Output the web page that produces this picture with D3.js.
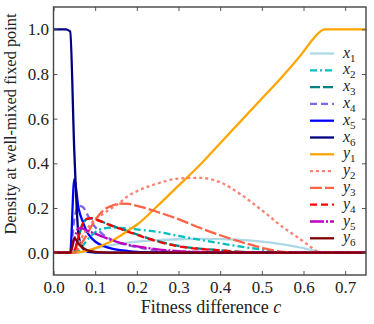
<!DOCTYPE html>
<html>
<head>
<meta charset="utf-8">
<script src="https://cdn.jsdelivr.net/npm/d3@7"></script>
<style>
  body { margin: 0; background: #fff; }
</style>
</head>
<body>
<script>
//data
var cVals = [0, 0.01, 0.02, 0.03, 0.04, 0.05, 0.06, 0.07, 0.08, 0.09, 0.1, 0.12, 0.14, 0.16, 0.18, 0.2,
  0.25, 0.3, 0.35, 0.4, 0.45, 0.5, 0.55, 0.6, 0.62, 0.64, 0.65, 0.7, 0.75];

var x1 = [0, 0, 0, 0, 0, 0, 0, 0.003, 0.008, 0.013, 0.018, 0.027, 0.034, 0.04, 0.045, 0.049,
  0.056, 0.06, 0.062, 0.061, 0.057, 0.049, 0.037, 0.02, 0.011, 0.003, 0, 0, 0];
var x2 = [0, 0, 0, 0, 0, 0, 0.01, 0.03, 0.055, 0.075, 0.092, 0.108, 0.112, 0.111, 0.108, 0.104,
  0.093, 0.075, 0.058, 0.042, 0.027, 0.014, 0.002, 0, 0, 0, 0, 0, 0];
var x3 = [0, 0, 0, 0, 0, 0.01, 0.07, 0.128, 0.15, 0.154, 0.15, 0.136, 0.121, 0.108, 0.095, 0.082,
  0.052, 0.03, 0.018, 0.011, 0.004, 0, 0, 0, 0, 0, 0, 0, 0];
var x4 = [0, 0, 0, 0, 0, 0.15, 0.21, 0.205, 0.175, 0.14, 0.115, 0.08, 0.058, 0.043, 0.033, 0.025,
  0.01, 0.004, 0.001, 0, 0, 0, 0, 0, 0, 0, 0, 0, 0];
var x5 = [0, 0, 0, 0, 0, 0.33, 0.2, 0.14, 0.095, 0.068, 0.05, 0.03, 0.018, 0.011, 0.007, 0.004,
  0.001, 0, 0, 0, 0, 0, 0, 0, 0, 0, 0, 0, 0];
var x6 = [1, 1, 1, 1, 0.99, 0.45, 0.08, 0.02, 0.006, 0.002, 0, 0, 0, 0, 0, 0,
  0, 0, 0, 0, 0, 0, 0, 0, 0, 0, 0, 0, 0];
var y1 = [0, 0, 0, 0, 0, 0, 0.002, 0.005, 0.009, 0.014, 0.02, 0.035, 0.052, 0.075, 0.1, 0.125,
  0.21, 0.3, 0.39, 0.49, 0.59, 0.69, 0.79, 0.9, 0.95, 0.99, 1, 1, 1];
var y2 = [0, 0, 0, 0, 0, 0.01, 0.04, 0.075, 0.105, 0.13, 0.15, 0.175, 0.2, 0.225, 0.255, 0.275,
  0.31, 0.332, 0.335, 0.315, 0.26, 0.19, 0.115, 0.05, 0.022, 0, 0, 0, 0];
var y3 = [0, 0, 0, 0, 0, 0, 0.02, 0.05, 0.08, 0.115, 0.145, 0.19, 0.21, 0.22, 0.218, 0.21,
  0.182, 0.15, 0.112, 0.078, 0.048, 0.022, 0.004, 0, 0, 0, 0, 0, 0];
var y4 = [0, 0, 0, 0, 0, 0.01, 0.07, 0.13, 0.152, 0.155, 0.15, 0.135, 0.12, 0.107, 0.093, 0.08,
  0.05, 0.028, 0.017, 0.01, 0.003, 0, 0, 0, 0, 0, 0, 0, 0];
var y5 = [0, 0, 0, 0, 0, 0.06, 0.11, 0.108, 0.1, 0.092, 0.085, 0.07, 0.056, 0.044, 0.035, 0.028,
  0.015, 0.007, 0.003, 0.001, 0, 0, 0, 0, 0, 0, 0, 0, 0];
var y6 = [0, 0, 0, 0, 0, 0.065, 0.04, 0.022, 0.012, 0.007, 0.004, 0.001, 0, 0, 0, 0,
  0, 0, 0, 0, 0, 0, 0, 0, 0, 0, 0, 0, 0];

var xTicks = [0, 0.1, 0.2, 0.3, 0.4, 0.5, 0.6, 0.7];
var yTicks = [0, 0.2, 0.4, 0.6, 0.8, 1.0];

//series styles (name, values, color, dash)
var series = [
  {name: 'x', sub: '1', values: x1, color: '#add8e6', dash: null},
  {name: 'x', sub: '2', values: x2, color: '#00bfbf', dash: '7,3,2,3'},
  {name: 'x', sub: '3', values: x3, color: '#008080', dash: '10,3'},
  {name: 'x', sub: '4', values: x4, color: '#7b68ee', dash: '7,4'},
  {name: 'x', sub: '5', values: x5, color: '#0000ff', dash: null},
  {name: 'x', sub: '6', values: x6, color: '#000080', dash: null},
  {name: 'y', sub: '1', values: y1, color: '#ffa500', dash: null},
  {name: 'y', sub: '2', values: y2, color: '#fa8072', dash: '3,3'},
  {name: 'y', sub: '3', values: y3, color: '#ff6347', dash: '12,3'},
  {name: 'y', sub: '4', values: y4, color: '#ff0000', dash: '7,4'},
  {name: 'y', sub: '5', values: y5, color: '#bf00bf', dash: '14,2,2,2'},
  {name: 'y', sub: '6', values: y6, color: '#800000', dash: null}
];

var serif = '"Liberation Serif", "DejaVu Serif", serif';
var width = 374, height = 324;
var margin = {left: 53.5, right: 8, top: 7, bottom: 49};

var svg = d3.select('body').append('svg')
  .attr('width', width)
  .attr('height', height);

var x = d3.scaleLinear().domain([0, 0.75]).range([margin.left, width - margin.right]);
var y = d3.scaleLinear().domain([-0.1, 1.1]).range([height - margin.bottom, margin.top]);

//clip so lines stay in the box
svg.append('clipPath').attr('id', 'clip')
  .append('rect')
  .attr('x', x(0)).attr('y', y(1.1))
  .attr('width', x(0.75) - x(0)).attr('height', y(-0.1) - y(1.1));

var line = d3.line()
  .x(function(d) { return x(d[0]); })
  .y(function(d) { return y(d[1]); })
  .curve(d3.curveMonotoneX);

var plot = svg.append('g').attr('clip-path', 'url(#clip)');
series.forEach(function(s) {
  var pts = cVals.map(function(c, i) { return [c, s.values[i]]; });
  plot.append('path')
    .attr('d', line(pts))
    .attr('fill', 'none')
    .attr('stroke', s.color)
    .attr('stroke-width', 2.3)
    .attr('stroke-dasharray', s.dash);
});

//axes: ticks inward on all four sides
var tickLen = 4;
var axB = d3.axisBottom(x).tickValues(xTicks).tickSize(-tickLen).tickPadding(6)
  .tickFormat(d3.format('.1f'));
var axT = d3.axisTop(x).tickValues(xTicks).tickSize(-tickLen).tickFormat('');
var axL = d3.axisLeft(y).tickValues(yTicks).tickSize(-tickLen).tickPadding(4.5)
  .tickFormat(d3.format('.1f'));
var axR = d3.axisRight(y).tickValues(yTicks).tickSize(-tickLen).tickFormat('');

function styleAxis(g) {
  g.select('.domain').remove();
  g.selectAll('line').attr('stroke', '#555').attr('stroke-width', 1);
  g.selectAll('text')
    .style('font-family', serif)
    .style('font-size', '17px')
    .attr('fill', '#222');
}

svg.append('g').attr('transform', 'translate(0,' + y(-0.1) + ')').call(axB).call(styleAxis);
svg.append('g').attr('transform', 'translate(0,' + y(1.1) + ')').call(axT).call(styleAxis);
svg.append('g').attr('transform', 'translate(' + x(0) + ',0)').call(axL).call(styleAxis);
svg.append('g').attr('transform', 'translate(' + x(0.75) + ',0)').call(axR).call(styleAxis);

//frame
svg.append('rect')
  .attr('x', x(0)).attr('y', y(1.1))
  .attr('width', x(0.75) - x(0)).attr('height', y(-0.1) - y(1.1))
  .attr('fill', 'none')
  .attr('stroke', '#444')
  .attr('stroke-width', 1.4);

//axis labels
var xl = svg.append('text')
  .attr('x', 211).attr('y', 313)
  .attr('text-anchor', 'middle')
  .attr('fill', '#222')
  .style('font-family', serif)
  .style('font-size', '18px');
xl.append('tspan').text('Fitness difference ');
xl.append('tspan').attr('font-style', 'italic').text('c');

svg.append('text')
  .attr('transform', 'translate(16,124) rotate(-90)')
  .attr('text-anchor', 'middle')
  .attr('fill', '#222')
  .style('font-family', serif)
  .style('font-size', '16.4px')
  .text('Density at well-mixed fixed point');

//legend
var legend = svg.append('g');
series.forEach(function(s, i) {
  var ly = 53.5 + 16.8 * i;
  legend.append('line')
    .attr('x1', 310).attr('x2', 334)
    .attr('y1', ly).attr('y2', ly)
    .attr('stroke', s.color)
    .attr('stroke-width', 2.3)
    .attr('stroke-dasharray', s.dash);
  var t = legend.append('text')
    .attr('x', 343).attr('y', ly + 4)
    .attr('fill', '#222')
    .style('font-family', serif)
    .style('font-size', '16px');
  t.append('tspan').attr('font-style', 'italic').text(s.name);
  t.append('tspan').style('font-size', '11px').attr('dy', 4).text(s.sub);
});
</script>
</body>
</html>
